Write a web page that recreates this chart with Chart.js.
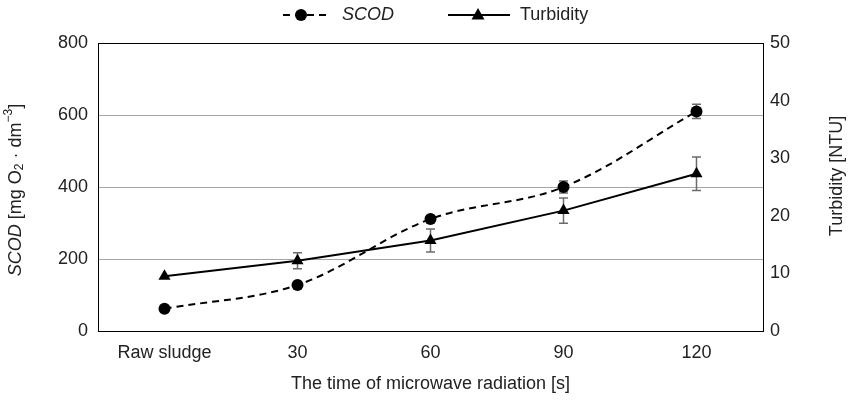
<!DOCTYPE html>
<html>
<head>
<meta charset="utf-8">
<script src="https://cdn.jsdelivr.net/npm/chart.js@4.4.1/dist/chart.umd.min.js"></script>
<style>
  html, body { margin: 0; padding: 0; background: #ffffff; }
  #wrap { width: 848px; height: 403px; position: relative; }
</style>
</head>
<body>
<div id="wrap"><canvas id="chart" width="848" height="403"></canvas></div>
<script>
// Sampling points along the x axis
const categories = ['Raw sludge', '30', '60', '90', '120'];

// Soluble COD, mg O2 per dm3, with standard deviation
const scodValues = [62, 128, 311, 400, 610];
const scodErrors = [0, 4, 5, 17, 20];

// Turbidity, NTU, with standard deviation
const turbidityValues = [9.5, 12.2, 15.7, 20.9, 27.3];
const turbidityErrors = [0, 1.4, 2.0, 2.2, 2.9];

// Axis ranges
const scodTicks = [0, 200, 400, 600, 800];
const turbidityTicks = [0, 10, 20, 30, 40, 50];

const FONT = 'Arial, "Liberation Sans", Helvetica, sans-serif';
const TEXT_COLOR = '#222222';
const FONT_SIZE = 18;

// Vertical error bars with caps, drawn under the markers
const errorBarPlugin = {
  id: 'errorBars',
  beforeDatasetsDraw(chart) {
    const ctx = chart.ctx;
    chart.data.datasets.forEach((ds, di) => {
      const errs = ds.errors;
      if (!errs) return;
      const meta = chart.getDatasetMeta(di);
      const yScale = chart.scales[ds.yAxisID];
      ctx.save();
      ctx.strokeStyle = '#6b6b6b';
      ctx.lineWidth = 1.5;
      meta.data.forEach((pt, i) => {
        const e = errs[i];
        if (!e) return;
        const v = ds.data[i];
        const yTop = yScale.getPixelForValue(v + e);
        const yBot = yScale.getPixelForValue(v - e);
        const x = pt.x;
        ctx.beginPath();
        ctx.moveTo(x, yTop); ctx.lineTo(x, yBot);
        ctx.moveTo(x - 4.5, yTop); ctx.lineTo(x + 4.5, yTop);
        ctx.moveTo(x - 4.5, yBot); ctx.lineTo(x + 4.5, yBot);
        ctx.stroke();
      });
      ctx.restore();
    });
  }
};

// Draws a run of styled text pieces (italic, sub- and superscript)
function drawRich(ctx, pieces, cx, cy, rotation) {
  ctx.save();
  ctx.translate(cx, cy);
  ctx.rotate(rotation);
  let total = 0;
  pieces.forEach(p => { ctx.font = p.font; p.w = ctx.measureText(p.text).width; total += p.w; });
  let x = -total / 2;
  ctx.fillStyle = TEXT_COLOR;
  ctx.textBaseline = 'middle';
  ctx.textAlign = 'left';
  pieces.forEach(p => {
    ctx.font = p.font;
    ctx.fillText(p.text, x, p.dy || 0);
    x += p.w;
  });
  ctx.restore();
}

// Legend and axis titles
const decorPlugin = {
  id: 'decor',
  afterDraw(chart) {
    const ctx = chart.ctx;
    const area = chart.chartArea;
    const normal = FONT_SIZE + 'px ' + FONT;
    const italic = 'italic ' + FONT_SIZE + 'px ' + FONT;
    const small = '12px ' + FONT;

    // Legend
    const ly = 15;
    ctx.save();
    ctx.strokeStyle = '#000';
    ctx.lineWidth = 2;
    ctx.setLineDash([7, 5]);
    ctx.beginPath(); ctx.moveTo(283, ly); ctx.lineTo(331, ly); ctx.stroke();
    ctx.setLineDash([]);
    ctx.fillStyle = '#000';
    ctx.beginPath(); ctx.arc(301, ly, 6, 0, Math.PI * 2); ctx.fill();
    ctx.beginPath(); ctx.moveTo(448, ly); ctx.lineTo(510, ly); ctx.stroke();
    ctx.beginPath();
    ctx.moveTo(478, ly - 7); ctx.lineTo(484.5, ly + 4.5); ctx.lineTo(471.5, ly + 4.5); ctx.closePath(); ctx.fill();
    ctx.fillStyle = TEXT_COLOR;
    ctx.textBaseline = 'middle';
    ctx.font = italic; ctx.fillText('SCOD', 342, ly);
    ctx.font = normal; ctx.fillText('Turbidity', 520, ly);
    ctx.restore();

    // Left axis title
    drawRich(ctx, [
      { text: 'SCOD', font: italic },
      { text: ' [mg O', font: normal },
      { text: '2', font: small, dy: 4 },
      { text: ' \u00B7 dm', font: normal },
      { text: '\u22123', font: small, dy: -7 },
      { text: ']', font: normal }
    ], 16, 190, -Math.PI / 2);

    // Right axis title
    drawRich(ctx, [{ text: 'Turbidity [NTU]', font: normal }], 837, 176, -Math.PI / 2);

    // Bottom axis title
    drawRich(ctx, [{ text: 'The time of microwave radiation [s]', font: normal }],
      (area.left + area.right) / 2, 384, 0);
  }
};

new Chart(document.getElementById('chart'), {
  type: 'line',
  data: {
    labels: categories,
    datasets: [
      {
        label: 'SCOD',
        data: scodValues,
        errors: scodErrors,
        yAxisID: 'y',
        borderColor: '#000',
        backgroundColor: '#000',
        borderWidth: 2,
        borderDash: [7, 5],
        tension: 0.35,
        pointStyle: 'circle',
        pointRadius: 6,
        pointBackgroundColor: '#000',
        pointBorderColor: '#000',
        pointBorderWidth: 0
      },
      {
        label: 'Turbidity',
        data: turbidityValues,
        errors: turbidityErrors,
        yAxisID: 'y1',
        borderColor: '#000',
        backgroundColor: '#000',
        borderWidth: 2,
        tension: 0,
        pointStyle: 'triangle',
        pointRadius: 7,
        pointBackgroundColor: '#000',
        pointBorderColor: '#000',
        pointBorderWidth: 0
      }
    ]
  },
  options: {
    responsive: false,
    animation: false,
    events: [],
    layout: { padding: { top: 43, left: 0, right: 0, bottom: 0 } },
    plugins: {
      legend: { display: false },
      tooltip: { enabled: false },
      title: { display: false }
    },
    scales: {
      x: {
        type: 'category',
        offset: true,
        grid: { display: true, color: 'rgba(0,0,0,0)', drawTicks: false, drawOnChartArea: false },
        border: { display: true, color: '#000', width: 1 },
        ticks: { color: TEXT_COLOR, font: { family: FONT, size: FONT_SIZE }, padding: 11, maxRotation: 0 },
        afterFit(scale) { scale.height = 72; }
      },
      y: {
        position: 'left',
        min: scodTicks[0],
        max: scodTicks[scodTicks.length - 1],
        afterBuildTicks(scale) { scale.ticks = scodTicks.map(v => ({ value: v })); },
        grid: {
          drawTicks: false,
          lineWidth: 1,
          color: c => c.tick && c.tick.value === 800 ? '#000' : (c.tick && c.tick.value === 0 ? 'rgba(0,0,0,0)' : '#a6a6a6')
        },
        border: { display: true, color: '#000', width: 1 },
        ticks: { color: TEXT_COLOR, font: { family: FONT, size: FONT_SIZE }, padding: 10 },
        afterFit(scale) { scale.width = 98; }
      },
      y1: {
        position: 'right',
        min: turbidityTicks[0],
        max: turbidityTicks[turbidityTicks.length - 1],
        afterBuildTicks(scale) { scale.ticks = turbidityTicks.map(v => ({ value: v })); },
        grid: { drawOnChartArea: false, drawTicks: false },
        border: { display: true, color: '#000', width: 1 },
        ticks: { color: TEXT_COLOR, font: { family: FONT, size: FONT_SIZE }, padding: 7 },
        afterFit(scale) { scale.width = 85; }
      }
    }
  },
  plugins: [errorBarPlugin, decorPlugin]
});
</script>
</body>
</html>
